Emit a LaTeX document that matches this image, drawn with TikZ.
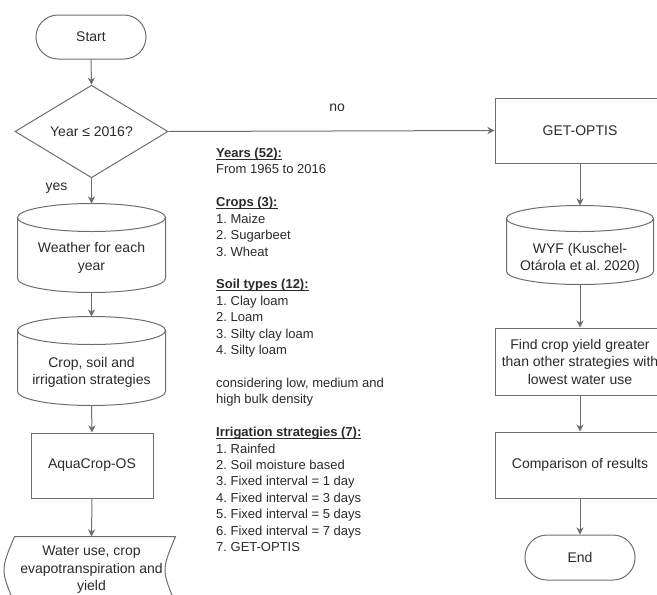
\documentclass[tikz,border=0pt]{standalone}
\usepackage{fontspec}
\setmainfont{Liberation Sans}
\usetikzlibrary{shapes.geometric,arrows.meta,calc}
\frenchspacing
\definecolor{lncol}{HTML}{6E6E6E}
\definecolor{txcol}{HTML}{2A2A2A}
\newcommand\hdr[1]{\setbox0\hbox{\textbf{#1}}\rlap{\rule[-2.2pt]{\wd0}{0.9pt}}\box0}
\newcommand\cyltext[2][13]{\raisebox{-#1pt}[0pt][0pt]{\begin{tabular}{@{}c@{}}#2\end{tabular}}}
\tikzset{
  lnstyle/.style={draw=lncol, line width=1pt},
  nodebase/.style={lnstyle, text=txcol, font=\fontsize{14}{17.5}\selectfont, align=center, inner sep=0pt},
  term/.style={nodebase, rounded corners=22pt, minimum width=110, minimum height=44},
  decide/.style={nodebase, diamond, minimum width=153, minimum height=91},
  proc/.style={nodebase, rectangle, minimum height=65},
  cylnode/.style={nodebase, draw=none, minimum width=147, minimum height=88},
  datanode/.style={nodebase, draw=none, minimum width=167, minimum height=66},
  arr/.style={lnstyle, -{Stealth[length=7pt,width=7pt,inset=2pt]}},
  lbl/.style={text=txcol, font=\fontsize{14}{17.5}\selectfont, inner sep=0pt},
  notes/.style={text=txcol, font=\fontsize{13}{16.4}\selectfont, inner sep=0pt, anchor=base west},
}
\newcommand\drawcyl[2]{%
  \draw[lnstyle] let \p1=(#1.north west), \p2=(#1.south east), \n1={(\x2-\x1)/2} in
    (\x1,\y1-#2pt) -- (\x1,\y2+#2pt)
    arc[start angle=180,end angle=360,x radius=\n1,y radius=#2pt]
    -- (\x2,\y1-#2pt)
    arc[start angle=0,end angle=180,x radius=\n1,y radius=#2pt]
    arc[start angle=180,end angle=360,x radius=\n1,y radius=#2pt];}
\newcommand\drawdata[1]{%
  \draw[lnstyle] let \p1=(#1.north west), \p2=(#1.south east) in
    (\x1+7pt,\y1) -- (\x2,\y1)
    .. controls (\x2-14pt,{(\y1+\y2)/2}) .. (\x2,\y2)
    -- (\x1+7pt,\y2)
    .. controls (\x1-7pt,{(\y1+\y2)/2}) .. (\x1+7pt,\y1) -- cycle;}
\begin{document}
\begin{tikzpicture}[x=1pt,y=-1pt]
\useasboundingbox (0,0) rectangle (657,595);
\clip (0,0) rectangle (657,595);
% left column
\node[term] (start) at (91,37) {Start};
\node[decide] (dec) at (91.5,131.5) {Year ≤ 2016?};
\node[cylnode] (weather) at (91.5,248) {\cyltext[13.5]{Weather for each\\year}};
\drawcyl{weather}{14}
\node[cylnode] (crop) at (91.5,361) {\cyltext[15]{Crop, soil and\\irrigation strategies}};
\drawcyl{crop}{14}
\node[proc, minimum width=122] (aqua) at (92,465.5) {AquaCrop-OS};
\node[datanode] (water) at (91.5,570) {Water use, crop\\evapotranspiration and\\yield};
\drawdata{water}
% right column
\node[proc, minimum width=170] (getoptis) at (580,130.5) {GET-OPTIS};
\node[cylnode, minimum width=146, minimum height=78] (wyf) at (580,245) {\cyltext[17]{WYF (Kuschel-\\Otárola et al. 2020)}};
\drawcyl{wyf}{13}
\node[proc, minimum width=170, minimum height=67] (find) at (580,361.5) {Find crop yield greater\\than other strategies with\\lowest water use};
\node[proc, minimum width=170, minimum height=66] (comp) at (580,465) {Comparison of results};
\node[term, minimum height=45] (stop) at (580,557.5) {End};
% connectors
\draw[arr] (start.south) -- (dec.north);
\draw[arr] (dec.south) -- node[lbl, pos=0.4, xshift=-35pt] {yes} (weather.north);
\draw[arr] (weather.south) -- (crop.north);
\draw[arr] (crop.south) -- (aqua.north);
\draw[arr] (aqua.south) -- (water.north);
\draw[arr] (dec.east) -- node[lbl, pos=0.517, yshift=23pt] {no} (getoptis.west);
\draw[arr] (getoptis.south) -- (wyf.north);
\draw[arr] (wyf.south) -- (find.north);
\draw[arr] (find.south) -- (comp.north);
\draw[arr] (comp.south) -- (stop.north);
% notes
\foreach \i/\t in {0/{\hdr{Years (52):}},1/{From 1965 to 2016},
  3/{\hdr{Crops (3):}},4/{1. Maize},5/{2. Sugarbeet},6/{3. Wheat},
  8/{\hdr{Soil types (12):}},9/{1. Clay loam},10/{2. Loam},11/{3. Silty clay loam},12/{4. Silty loam},
  14/{considering low, medium and},15/{high bulk density},
  17/{\hdr{Irrigation strategies (7):}},18/{1. Rainfed},19/{2. Soil moisture based},
  20/{3. Fixed interval = 1 day},21/{4. Fixed interval = 3 days},22/{5. Fixed interval = 5 days},
  23/{6. Fixed interval = 7 days},24/{7. GET-OPTIS}}
  \node[notes] (note\i) at (216,157.5+\i*16.42) {\t};
\end{tikzpicture}
\end{document}
